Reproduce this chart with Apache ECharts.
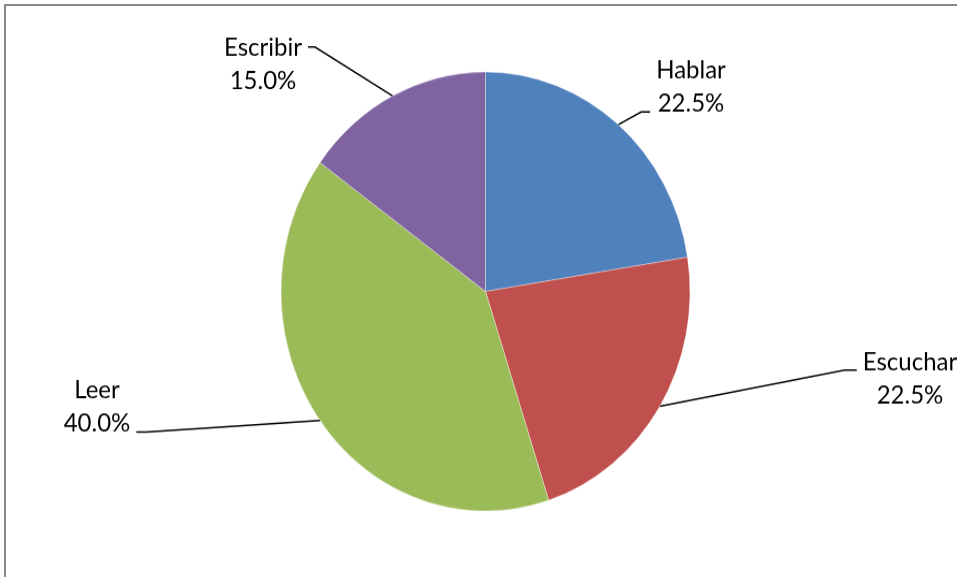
<!DOCTYPE html>
<html><head><meta charset="utf-8">
<script src="https://cdn.jsdelivr.net/npm/echarts@6/dist/echarts.min.js"></script>
<style>
html,body{margin:0;padding:0;background:#fff;overflow:hidden;width:957px;height:577px;}
#frame{position:absolute;left:4px;top:4px;width:1000px;height:640px;border:2px solid #878787;box-sizing:border-box;}
#chart{position:absolute;left:0;top:0;width:957px;height:538px;transform-origin:0 0;}
</style></head><body>
<div id="frame"></div>
<div id="chart"></div>
<script>
// ---- data ----
const categories = ['Hablar', 'Escuchar', 'Leer', 'Escribir'];
const values = [22.5, 22.5, 40.0, 15.0];
const colors = ['#4F81BD', '#C0504D', '#9BBB59', '#8064A2'];

// ---- layout / style (screen pixels) ----
const RX = 204.5, RY = 219.5, CX = 485.5, CY = 291.5;
const S = RY / RX;               // vertical stretch to make the pie elliptical like the reference
const placement = {
  Hablar:   { cx: 691, cy: 87,  side: 'right', dy: 25,  elbow: 9 },
  Escuchar: { cx: 910, cy: 379, side: 'right', dy: -9,  elbow: 12 },
  Leer:     { cx: 97,  cy: 407, side: 'left',  dy: 25,  elbow: 10 },
  Escribir: { cx: 263, cy: 64,  side: 'left',  dy: -17, elbow: 7 }
};

const el = document.getElementById('chart');
el.style.transform = 'scaleY(' + S + ')';
const chart = echarts.init(el, null, { renderer: 'canvas' });

const total = values.reduce((a, b) => a + b, 0);
function edgePoint(i) {
  let cum = 0;
  for (let k = 0; k < i; k++) cum += values[k];
  const a = (90 - (cum + values[i] / 2) / total * 360) * Math.PI / 180;
  return [CX + RX * Math.cos(a), CY / S - RX * Math.sin(a)];
}

chart.setOption({
  animation: false,
  backgroundColor: 'transparent',
  series: [{
    type: 'pie',
    center: [CX, CY / S],
    radius: RX,
    startAngle: 90,
    clockwise: true,
    avoidLabelOverlap: false,
    silent: true,
    data: categories.map((c, i) => ({ name: c, value: values[i], itemStyle: { color: colors[i] } })),
    itemStyle: { borderColor: 'rgba(255,255,255,0.7)', borderWidth: 0.5 },
    label: {
      show: true,
      position: 'outside',
      formatter: p => p.name + '\n' + p.percent.toFixed(1) + '%',
      fontFamily: 'Lato',
      fontSize: 24,
      lineHeight: Math.round(33 / S),
      color: '#000',
      align: 'center'
    },
    labelLine: { show: true, smooth: false, length: 10, length2: 10, lineStyle: { color: '#000', width: 1.5 } },
    labelLayout: function (p) {
      const name = categories[p.dataIndex];
      const pl = placement[name];
      const w = p.labelRect.width;
      const x = pl.cx, y = pl.cy / S;
      const endX = pl.side === 'right' ? x - w / 2 - 6 : x + w / 2 + 6;
      const endY = (pl.cy + pl.dy) / S;
      const elbowX = pl.side === 'right' ? endX - pl.elbow : endX + pl.elbow;
      const start = edgePoint(p.dataIndex);
      return { x: x, y: y, align: 'center', verticalAlign: 'middle',
               labelLinePoints: [start, [elbowX, endY], [endX, endY]] };
    }
  }]
});
</script>
</body></html>
